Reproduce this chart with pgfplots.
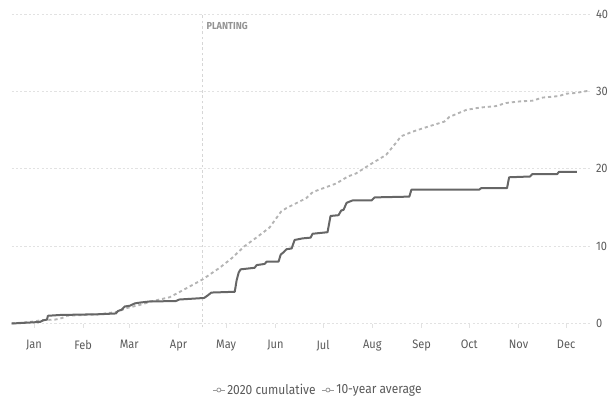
\documentclass[border=0pt]{standalone}
\usepackage{fontspec}
\setmainfont{Fira Sans}[FakeStretch=0.9]
\usepackage{pgfplots}
\pgfplotsset{compat=1.18}
\definecolor{solidc}{HTML}{666666}
\definecolor{avgc}{HTML}{B4B4B4}
\definecolor{gridc}{HTML}{E2E2E2}
\definecolor{txtc}{HTML}{5A5A5A}
\definecolor{plantc}{HTML}{D6D6D6}
\begin{document}
\begin{tikzpicture}[x=1pt,y=1pt]
\useasboundingbox (-8.775,-57.375) rectangle (448.725,242.625);
\begin{axis}[
  at={(0,0)}, anchor=south west,
  scale only axis,
  width=433.7pt, height=232.1pt,
  xmin=1, xmax=365, ymin=0, ymax=40,
  axis line style={draw=none},
  clip=false,
  /pgf/number format/assume math mode=true,
  xtick={15,46,75,106,136,167,197,228,259,289,320,350},
  xticklabels={Jan,Feb,Mar,Apr,May,Jun,Jul,Aug,Sep,Oct,Nov,Dec},
  xtick pos=bottom,
  tick align=outside,
  major tick length=3pt,
  x tick style={gridc, line width=0.6pt},
  xticklabel style={font=\fontsize{9.2}{11}\selectfont, text=txtc, yshift=-6pt},
  ytick={0,10,20,30,40},
  ytick pos=right,
  yticklabel pos=right,
  y tick style={draw=none},
  yticklabel style={font=\fontsize{9.2}{11}\selectfont, text=txtc, anchor=west, xshift=-2pt},
  ymajorgrids,
  major grid style={gridc, line width=0.6pt, dash pattern=on 1.6pt off 1.6pt},
  legend columns=2,
  legend style={draw=none, fill=none, at={(0.5297,-0.2149)}, anchor=center,
    font=\fontsize{10}{12}\selectfont, text=txtc,
    /tikz/every even column/.append style={column sep=3pt},
    nodes={inner xsep=1.5pt}},
  legend image code/.code={
    \draw[#1, line width=0.6pt] (0pt,0pt) -- (9pt,0pt);
    \draw[#1, line width=0.6pt, fill=white] (4.5pt,0pt) circle (1.5pt);
  },
  legend cell align=left,
]
% planting line
\addplot[plantc, line width=0.8pt, dash pattern=on 2pt off 2pt, forget plot] coordinates {(121,-0.5) (121,40)};
\node[anchor=north west, font=\bfseries\fontsize{7.6}{9}\selectfont, text=gray!85, inner sep=0pt] at (axis cs:123.5,39.0) {PLANTING};
% 10-year average
\addplot[avgc, line width=1.4pt, dash pattern=on 2.4pt off 2.2pt, forget plot] coordinates {
(1,0) (12.5,0.2) (20.7,0.45) (28.2,0.5) (32.6,0.7) (35.8,1.0) (56.5,1.2) (67.2,1.5) (73.5,2.0)
(81.6,2.4) (89.8,2.9) (100.5,3.4) (108.7,4.3) (121.2,5.7) (131.9,7.2) (139.3,8.4) (147.6,10.0)
(155.0,11.1) (163.3,12.4) (170.7,14.5) (173.8,14.9) (186.4,16.2) (190.6,17.0) (205.3,18.1)
(212.6,19.0) (217.8,19.4) (226.2,20.5) (236.7,21.8) (241.9,23.1) (246.1,24.2) (253.4,24.8)
(263.9,25.5) (273.4,26.1) (276.5,26.7) (287.0,27.6) (295.4,27.9) (305.8,28.1) (312.1,28.5)
(320.5,28.7) (328.8,28.8) (335.1,29.2) (345.6,29.4) (349.8,29.7) (356.1,29.8) (364.5,30.1)
};
% 2020 cumulative
\addplot[solidc, line width=1.5pt, line join=round, forget plot] coordinates {
(1,0) (18.8,0.2) (20.7,0.4) (23.2,0.5) (23.8,1.0) (31.4,1.1) (56.5,1.2) (66.6,1.3) (67.8,1.6)
(70.3,1.8) (72.2,2.2) (75.4,2.3) (78.5,2.6) (81.6,2.7) (87.9,2.85) (104.3,2.9) (106.5,3.1)
(122.1,3.3) (124.2,3.6) (126.7,4.0) (141.4,4.1) (142.6,5.6) (143.9,6.6) (145.1,7.0) (153.9,7.2)
(155.2,7.55) (160.2,7.7) (161.5,8.0) (169.0,8.0) (170.3,8.9) (172.1,9.2) (174.0,9.6) (177.2,9.7)
(179.1,10.8) (184.1,11.0) (189.2,11.1) (190.4,11.6) (199.8,11.8) (201.7,13.9) (206.7,14.0)
(208.4,14.6) (209.9,14.7) (211.8,15.6) (215.5,15.9) (227.5,15.9) (229.4,16.3) (251.3,16.4)
(252.6,17.3) (295.3,17.3) (296.5,17.5) (312.8,17.5) (314.1,18.9) (327.3,19.0) (328.6,19.3)
(344.3,19.3) (345.5,19.6) (356.8,19.6)
};
\addlegendimage{gray!80}
\addlegendentry{2020 cumulative}
\addlegendimage{gray!80}
\addlegendentry{10-year average}
\end{axis}
\end{tikzpicture}
\end{document}
